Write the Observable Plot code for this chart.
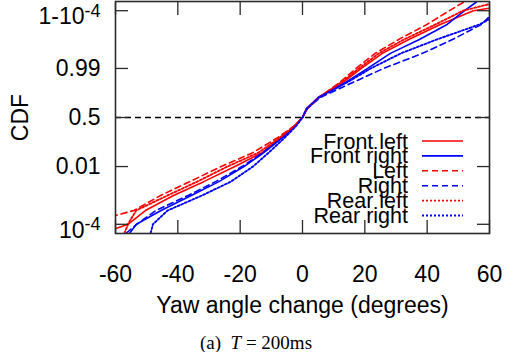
<!DOCTYPE html>
<html><head><meta charset="utf-8">
<script src="https://cdn.jsdelivr.net/npm/d3@7"></script>
<script src="https://cdn.jsdelivr.net/npm/@observablehq/plot@0.6"></script>
<style>
html,body{margin:0;padding:0;background:#fff;}
#chart svg{display:block;}
#caption{font-family:"Liberation Serif","DejaVu Serif",serif;font-size:19px;line-height:18px;text-align:center;padding-left:7px;width:505px;box-sizing:border-box;color:#000;white-space:pre;}
</style></head><body>
<div id="chart"></div>
<div id="caption">(a)  <i>T</i> = 200ms</div>
<script>
// CDF levels (shared) and yaw-angle change (degrees) at each level, per series
const cdfLevels = [0.00005, 0.0001, 0.0003, 0.001, 0.003, 0.01, 0.03, 0.1, 0.25, 0.5, 0.75, 0.9, 0.97, 0.99, 0.997, 0.999, 0.9997, 0.9999, 0.99995];
const frontLeft  = [-63.8, -56.0, -50.4, -41.4, -31.7, -21.7, -13.0, -7.1, -2.5, 0, 1.3, 5.1, 13.1, 18.9, 25.6, 34.1, 44.2, 54.8, 73.1];
const frontRight = [-55.4, -53.3, -45.4, -35.7, -26.8, -18.8, -12.5, -6.4, -2.4, 0, 1.3, 5.1, 13.9, 20.9, 28.2, 37.5, 46.4, 52.0, 55.8];
const leftSide   = [null, -70.6, -54.1, -45.5, -36.2, -26.1, -16.0, -8.0, -2.8, 0, 1.6, 5.4, 12.0, 17.2, 23.3, 30.8, 39.9, 47.1, 51.8];
const rightSide  = [-56.5, -53.2, -47.0, -36.7, -27.9, -19.4, -12.8, -6.6, -2.5, 0, 1.4, 5.8, 16.3, 26.0, 38.5, 48.1, 57.4, 61.9, 64.5];
const rearLeft   = [-57.1, -56.0, -53.4, -43.3, -33.8, -24.1, -14.2, -7.3, -2.7, 0, 1.3, 5.3, 12.5, 18.1, 24.5, 32.5, 42.7, 51.5, 62.6];
const rearRight  = [-48.7, -48.0, -43.3, -32.2, -23.0, -15.9, -10.9, -5.7, -2.1, 0, 1.3, 5.3, 14.4, 21.9, 31.6, 43.0, 56.8, 65.0, 69.9];

const seriesNames = ["Front left", "Front right", "Left", "Right", "Rear left", "Rear right"];
const seriesValues = [frontLeft, frontRight, leftSide, rightSide, rearLeft, rearRight];
const seriesColors = ["#ff0000", "#0000ff", "#ff0000", "#0000ff", "#ff0000", "#0000ff"];
const seriesDash = [null, null, "6,4", "6,4", "2,2", "2,2"];
const seriesWidth = [1.6, 1.6, 1.6, 1.6, 1.9, 1.9];

const xTicks = [-60, -40, -20, 0, 20, 40, 60];
const yTickP = [0.0001, 0.01, 0.5, 0.99, 0.9999];
const yTickLabels = ["10^-4", "0.01", "0.5", "0.99", "1-10^-4"];
const xDomain = [-60, 60];
const pMin = 0.000048; // bottom/top edge of the axis (two-sided log scale)

// two-sided logarithmic CDF transform
const tf = p => p < 0.5 ? Math.log10(2 * p) : -Math.log10(2 * (1 - p));
const yTickT = yTickP.map(tf);

const table = [];
seriesNames.forEach((name, s) => {
  seriesValues[s].forEach((x, i) => {
    if (x != null) table.push({series: name, x, t: tf(cdfLevels[i])});
  });
});

const fmtY = d => {
  const i = yTickT.findIndex(v => Math.abs(v - d) < 1e-9);
  return i >= 0 ? yTickLabels[i] : "";
};

const frameColor = "#2a2a2a";
const font = "'Liberation Sans', Arial, sans-serif";

function legendMark(index, scales, values, dims) {
  const g = d3.create("svg:g");
  const right = dims.width - dims.marginRight;
  const bottom = dims.height - dims.marginBottom;
  const n = seriesNames.length;
  seriesNames.forEach((name, i) => {
    const cy = bottom - 17.5 - (n - 1 - i) * 14.9;
    g.append("text")
      .attr("x", right - 81).attr("y", cy).attr("dy", "0.35em")
      .attr("text-anchor", "end").attr("font-size", 21.5).attr("fill", "#000")
      .attr("font-family", font)
      .text(name);
    g.append("line")
      .attr("x1", right - 67).attr("x2", right - 26).attr("y1", cy).attr("y2", cy)
      .attr("stroke", seriesColors[i]).attr("stroke-width", seriesWidth[i])
      .attr("stroke-dasharray", seriesDash[i]);
  });
  return g.node();
}

const marks = [
  Plot.ruleY([tf(0.5)], {stroke: "#000", strokeWidth: 1.5, strokeDasharray: "6,4"}),
  ...seriesNames.map((name, s) => Plot.line(table.filter(d => d.series === name), {
    x: "x", y: "t", stroke: seriesColors[s], strokeWidth: seriesWidth[s],
    strokeDasharray: seriesDash[s], clip: true
  })),
  Plot.axisX({anchor: "bottom", ticks: xTicks, tickFormat: d => String(d), tickSize: 0, tickPadding: 32, fontSize: 23, label: null}),
  Plot.axisX({anchor: "bottom", ticks: xTicks, tickSize: -13, tickFormat: () => "", stroke: frameColor, strokeWidth: 1.3, label: null}),
  Plot.axisX({anchor: "top", ticks: xTicks, tickSize: -13, tickFormat: () => "", stroke: frameColor, strokeWidth: 1.3, label: null}),
  Plot.axisY({anchor: "left", ticks: yTickT, tickFormat: fmtY, tickSize: 0, tickPadding: 15, fontSize: 23, label: null}),
  Plot.axisY({anchor: "left", ticks: yTickT, tickSize: -13, tickFormat: () => "", stroke: frameColor, strokeWidth: 1.3, label: null}),
  Plot.axisY({anchor: "right", ticks: yTickT, tickSize: -13, tickFormat: () => "", stroke: frameColor, strokeWidth: 1.3, label: null}),
  Plot.frame({stroke: frameColor, strokeWidth: 1.6}),
  Plot.text(["CDF"], {frameAnchor: "left", rotate: -90, dx: -95, fontSize: 23, textAnchor: "middle", lineAnchor: "middle", fill: "#000"}),
  Plot.text(["Yaw angle change (degrees)"], {frameAnchor: "bottom", dy: 72, fontSize: 23, textAnchor: "middle", lineAnchor: "middle", fill: "#000"}),
  legendMark
];

const chart = Plot.plot({
  width: 505,
  height: 334,
  marginLeft: 115,
  marginRight: 16,
  marginTop: 1,
  marginBottom: 101,
  x: {domain: xDomain},
  y: {domain: [tf(pMin), tf(1 - pMin)]},
  style: {fontFamily: font, fontSize: "23px", color: "#000", background: "#fff"},
  marks
});

// superscripts for exponent labels (whole label box centred on the tick, as in the original)
d3.select(chart).selectAll("text").each(function() {
  const el = d3.select(this);
  const txt = this.textContent;
  if (txt.includes("^") && this.childElementCount === 0) {
    const [base, exp] = txt.split("^");
    el.text(null);
    el.append("tspan").attr("dy", "6").text(base);
    el.append("tspan").attr("dy", "-0.42em").attr("font-size", "0.78em").text(exp);
  }
});

document.getElementById("chart").appendChild(chart);
</script></body></html>
